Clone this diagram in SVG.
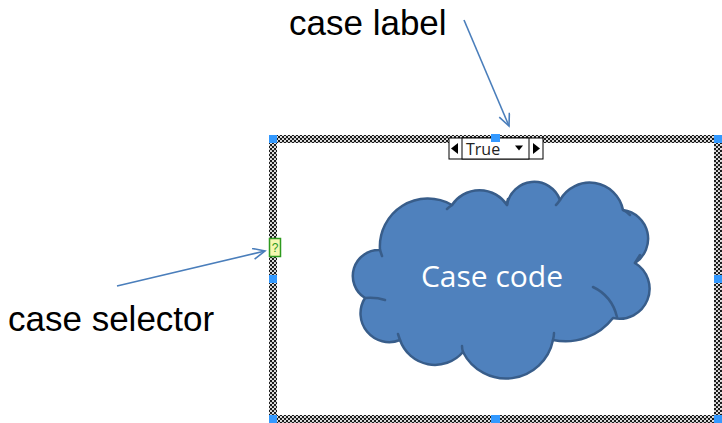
<svg xmlns="http://www.w3.org/2000/svg" width="722" height="423" viewBox="0 0 722 423">
<style>
.lbl{font-family:"Liberation Sans",Arial,sans-serif;font-size:35px;fill:#000}
.handle{fill:#3399ff}
.band{fill:url(#chk)}
.conn{stroke:#4a7ebb;stroke-width:1.6;fill:none}
.cloud{fill:#4f81bd;stroke:#385d8a;stroke-width:2.5;stroke-linejoin:round}
.inner{fill:none;stroke:#385d8a;stroke-width:2.5;stroke-linecap:round}
.tri{fill:#000}
</style>
<defs>
<pattern id="chk" width="4" height="4" patternUnits="userSpaceOnUse">
<rect width="4" height="4" fill="#1a1a1a"/>
<circle cx="1" cy="1" r="1.1" fill="#f2f2f2"/>
<circle cx="3" cy="3" r="1.1" fill="#f2f2f2"/>
</pattern>
<marker id="arr" markerUnits="userSpaceOnUse" markerWidth="16" markerHeight="16" refX="13" refY="6" orient="auto">
<path d="M1,0.5 L13,6 L1,11.5" fill="none" stroke="#4a7ebb" stroke-width="1.6" stroke-linejoin="miter"/>
</marker>
</defs>
<rect width="722" height="423" fill="#fff"/>

<g id="frame">
<rect class="band" x="269" y="135" width="453" height="8"/>
<rect class="band" x="269" y="415" width="453" height="8"/>
<rect class="band" x="269" y="135" width="8" height="288"/>
<rect class="band" x="714" y="135" width="8" height="288"/>
</g>

<g id="case-code">
<path class="cloud" d="M380,250 A26,26 0 0 0 365,298 A28.7,28.7 0 0 0 400,340 A37,37 0 0 0 463,352 A48,48 0 0 0 553,340 A60,60 0 0 0 613,318 A30,30 0 0 0 635,263 A29,29 0 0 0 623,210 A34,34 0 0 0 560,200 A27.5,27.5 0 0 0 507,205 A33,33 0 0 0 452,205 A48,48 0 0 0 380,250 Z"/>
<path class="inner" d="M365,298 Q376,297 385,300 M400,340 Q399,337 398,334 M463,352 Q462,349 462,346 M553,340 Q554,336 554,333 M593,287 Q612,296 617,317 M635,263 Q638,258 640,255 M623,210 Q627,212 630,215 M560,200 Q558,203 556,205 M507,205 Q507,202 508,199 M452,205 Q449,207 447,209 M380,250 Q381,253 382,256"/>
<text x="492" y="287" text-anchor="middle" font-family="'Open Sans','Noto Sans',sans-serif" font-size="30" fill="#fff">Case code</text>
</g>

<g id="case-label">
<rect x="449" y="138" width="94" height="21" fill="#fff" stroke="#000" stroke-width="1"/>
<rect x="462" y="138" width="67" height="21" fill="#fff" stroke="#000" stroke-width="1"/>
<path class="tri" d="M451,148.5 L458,143 L458,154 Z"/>
<path class="tri" d="M540,148.5 L533,143 L533,154 Z"/>
<path class="tri" d="M515,145.5 L523,145.5 L519,150.5 Z"/>
<text x="466" y="155" font-family="'Open Sans','Noto Sans',sans-serif" font-size="16" fill="#222">True</text>
</g>

<g id="case-selector">
<rect x="269.5" y="238.5" width="11" height="18" fill="#f4f7b0" stroke="#2e9a1e" stroke-width="1.5"/>
<text x="275" y="252" text-anchor="middle" font-family="'Liberation Sans',sans-serif" font-size="12" fill="#2e9a1e">?</text>
</g>

<g id="handles">
<rect class="handle" x="269" y="135" width="8" height="8"/>
<rect class="handle" x="491" y="134" width="9" height="8"/>
<rect class="handle" x="714" y="135" width="8" height="8"/>
<rect class="handle" x="269" y="275" width="8" height="8"/>
<rect class="handle" x="714" y="275" width="8" height="8"/>
<rect class="handle" x="269" y="415" width="8" height="8"/>
<rect class="handle" x="491" y="415" width="9" height="8"/>
<rect class="handle" x="714" y="415" width="8" height="8"/>
</g>

<g id="label-case-label">
<text class="lbl" x="289" y="35">case label</text>
</g>
<g id="label-case-selector">
<text class="lbl" x="8" y="331">case selector</text>
</g>

<g id="connectors">
<path class="conn" d="M464,20 L509,126" marker-end="url(#arr)"/>
<path class="conn" d="M117,286 L265,251" marker-end="url(#arr)"/>
</g>
</svg>
